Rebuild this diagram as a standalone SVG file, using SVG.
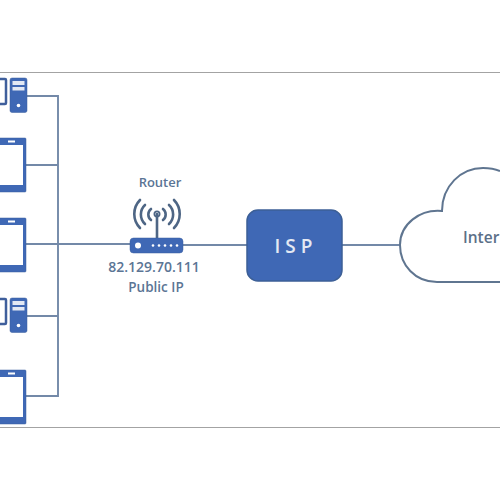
<svg xmlns="http://www.w3.org/2000/svg" width="500" height="500" viewBox="0 0 500 500">
<style>
.frame{stroke:#a3a3a3;stroke-width:1.2;fill:none}
.conn{stroke:#7389a8;stroke-width:1.9;fill:none}
.dev{fill:#3f68b5;stroke:#3a5f9f;stroke-width:.5}
.scr{fill:#fff}
.wave{fill:none;stroke:#4e6685;stroke-width:2.600;stroke-linecap:round}
text{font-family:"Open Sans","Liberation Sans",sans-serif;font-weight:600;fill:#5b7595;text-anchor:middle}
</style>
<defs>
<g id="phone"><rect class="dev" x="-10" y="0" width="36" height="54" rx="1"/><rect class="scr" x="-10" y="7" width="33" height="40"/><rect class="scr" x="8" y="2.500" width="7" height="2"/></g>
<g id="pc"><rect fill="#fff" stroke="#3f5f9c" stroke-width="2.500" x="-12" y="1" width="18" height="25" rx="1"/><rect class="dev" x="10" y="0" width="17" height="34.500" rx="2"/><rect class="scr" x="12.500" y="3" width="12" height="4" opacity=".85"/><rect class="scr" x="12.500" y="9" width="12" height="3.500" opacity=".85"/><circle class="scr" cx="18.500" cy="27.500" r="1.800"/></g>
</defs>
<rect width="500" height="500" fill="#fff"/>
<g id="frame"><path class="frame" d="M0 72.500H500M0 427.500H500"/></g>
<g id="connectors">
<path class="conn" d="M27 96H58V396H26M26 165H58M27 316H58M26 244H130M183 245H247M342 245H400"/>
</g>
<g id="device-1"><use href="#pc" y="78"/></g>
<g id="device-2"><use href="#phone" y="138"/></g>
<g id="device-3"><use href="#phone" y="218"/></g>
<g id="device-4"><use href="#pc" y="298"/></g>
<g id="device-5"><use href="#phone" y="370"/></g>
<g id="router">
<text x="160" y="187" font-size="13">Router</text>
<path class="wave" d="M157 214V238"/>
<circle cx="157" cy="214" r="2.600" fill="none" stroke="#4e6685" stroke-width="1.800"/>
<path class="wave" d="M151 209A7 7 0 0 0 151 220M163 209A7 7 0 0 1 163 220M145 205A13 13 0 0 0 145 224M169 205A13 13 0 0 1 169 224M140 200A20 20 0 0 0 140 228M174 200A20 20 0 0 1 174 228"/>
<rect class="dev" x="130" y="238" width="53" height="15" rx="3.500"/>
<circle class="scr" cx="138" cy="245.500" r="3"/>
<g class="scr"><circle cx="153" cy="245.500" r="1.300"/><circle cx="159" cy="245.500" r="1.300"/><circle cx="165" cy="245.500" r="1.300"/><circle cx="171" cy="245.500" r="1.300"/><circle cx="177" cy="245.500" r="1.300"/></g>
<text x="154" y="272" font-size="14">82.129.70.111</text>
<text x="156" y="292" font-size="13.500">Public IP</text>
</g>
<g id="isp">
<rect x="247" y="210" width="95" height="71" rx="11" fill="#3f68b5" stroke="#3c5f96" stroke-width="1.500"/>
<text x="296" y="253" font-size="19" letter-spacing="5" style="fill:#e4e9f3">ISP</text>
</g>
<g id="internet">
<path d="M500 171C493 168 488 168 483 168C461 168 442 186 442 211C420 209 400 224 400 245C400 265 415 282 437 282H500" fill="#fff" stroke="#5f7590" stroke-width="2"/>
<text x="463" y="243" font-size="15.500" style="fill:#5c7088;text-anchor:start">Inter</text>
</g>
</svg>
